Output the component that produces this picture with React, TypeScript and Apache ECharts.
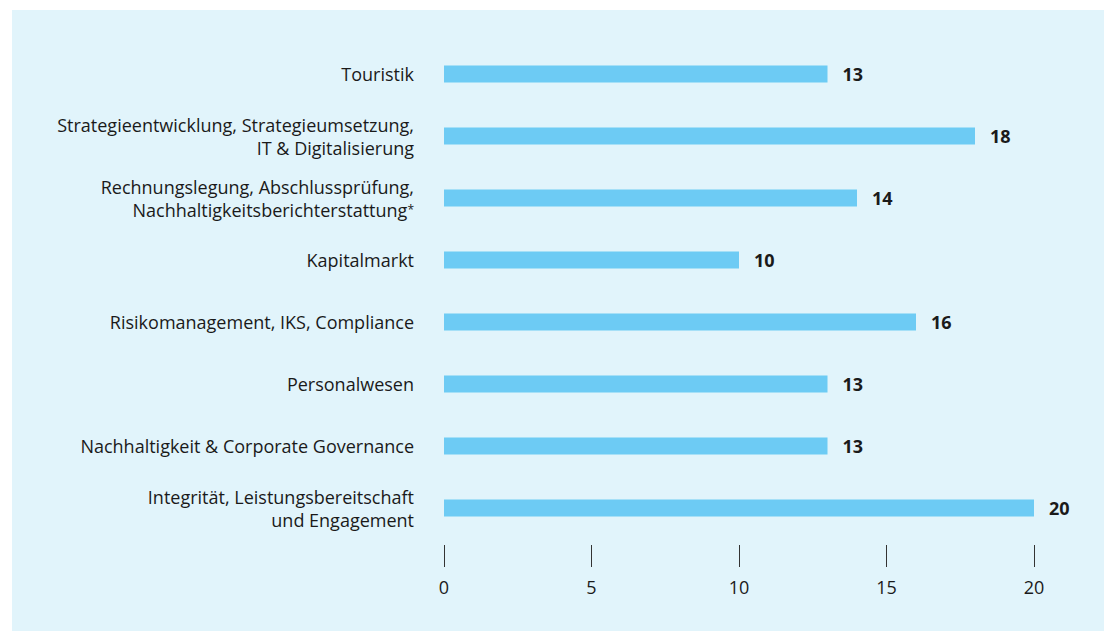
import React, { useEffect, useRef } from "react";
import * as echarts from "echarts";

const categories = [
  "Touristik",
  "Strategieentwicklung, Strategieumsetzung,\nIT & Digitalisierung",
  "Rechnungslegung, Abschlussprüfung,\nNachhaltigkeitsberichterstattung{sup|*}",
  "Kapitalmarkt",
  "Risikomanagement, IKS, Compliance",
  "Personalwesen",
  "Nachhaltigkeit & Corporate Governance",
  "Integrität, Leistungsbereitschaft\nund Engagement",
];
const values = [13, 18, 14, 10, 16, 13, 13, 20];
const tickValues = [0, 5, 10, 15, 20];

const FONT = "Open Sans";
const TEXT = "#1a1a1a";

export default function App() {
  const ref = useRef<HTMLDivElement>(null);
  useEffect(() => {
    document.body.style.margin = "0";
    const chart = echarts.init(ref.current!, null, { renderer: "svg" });
    chart.setOption({
      animation: false,
      backgroundColor: "#ffffff",
      graphic: [
        {
          type: "rect",
          z: -10,
          shape: { x: 12, y: 10, width: 1092, height: 621 },
          style: { fill: "#E1F4FB" },
        },
      ],
      grid: { left: 444, right: 70, top: 43, height: 496 },
      xAxis: {
        type: "value",
        min: tickValues[0],
        max: tickValues[tickValues.length - 1],
        interval: 5,
        offset: 6,
        axisLine: { show: false },
        splitLine: { show: false },
        axisTick: { show: true, length: 22, lineStyle: { color: "#333", width: 1 } },
        axisLabel: { margin: 33, fontFamily: FONT, fontSize: 18, color: TEXT },
      },
      yAxis: {
        type: "category",
        inverse: true,
        data: categories,
        axisLine: { show: false },
        axisTick: { show: false },
        axisLabel: {
          margin: 30,
          fontFamily: FONT,
          fontSize: 18,
          lineHeight: 23,
          color: TEXT,
          align: "right",
          rich: {
            sup: {
              fontFamily: FONT,
              fontSize: 12,
              color: TEXT,
              verticalAlign: "middle",
              lineHeight: 23,
            },
          },
        },
      },
      series: [
        {
          type: "bar",
          data: values,
          barWidth: 17,
          itemStyle: { color: "#6DCBF4" },
          label: {
            show: true,
            position: "right",
            distance: 15,
            fontFamily: FONT,
            fontSize: 18,
            fontWeight: "bold",
            color: TEXT,
          },
        },
      ],
    });
    return () => chart.dispose();
  }, []);
  return <div ref={ref} style={{ width: 1104, height: 631 }} />;
}
